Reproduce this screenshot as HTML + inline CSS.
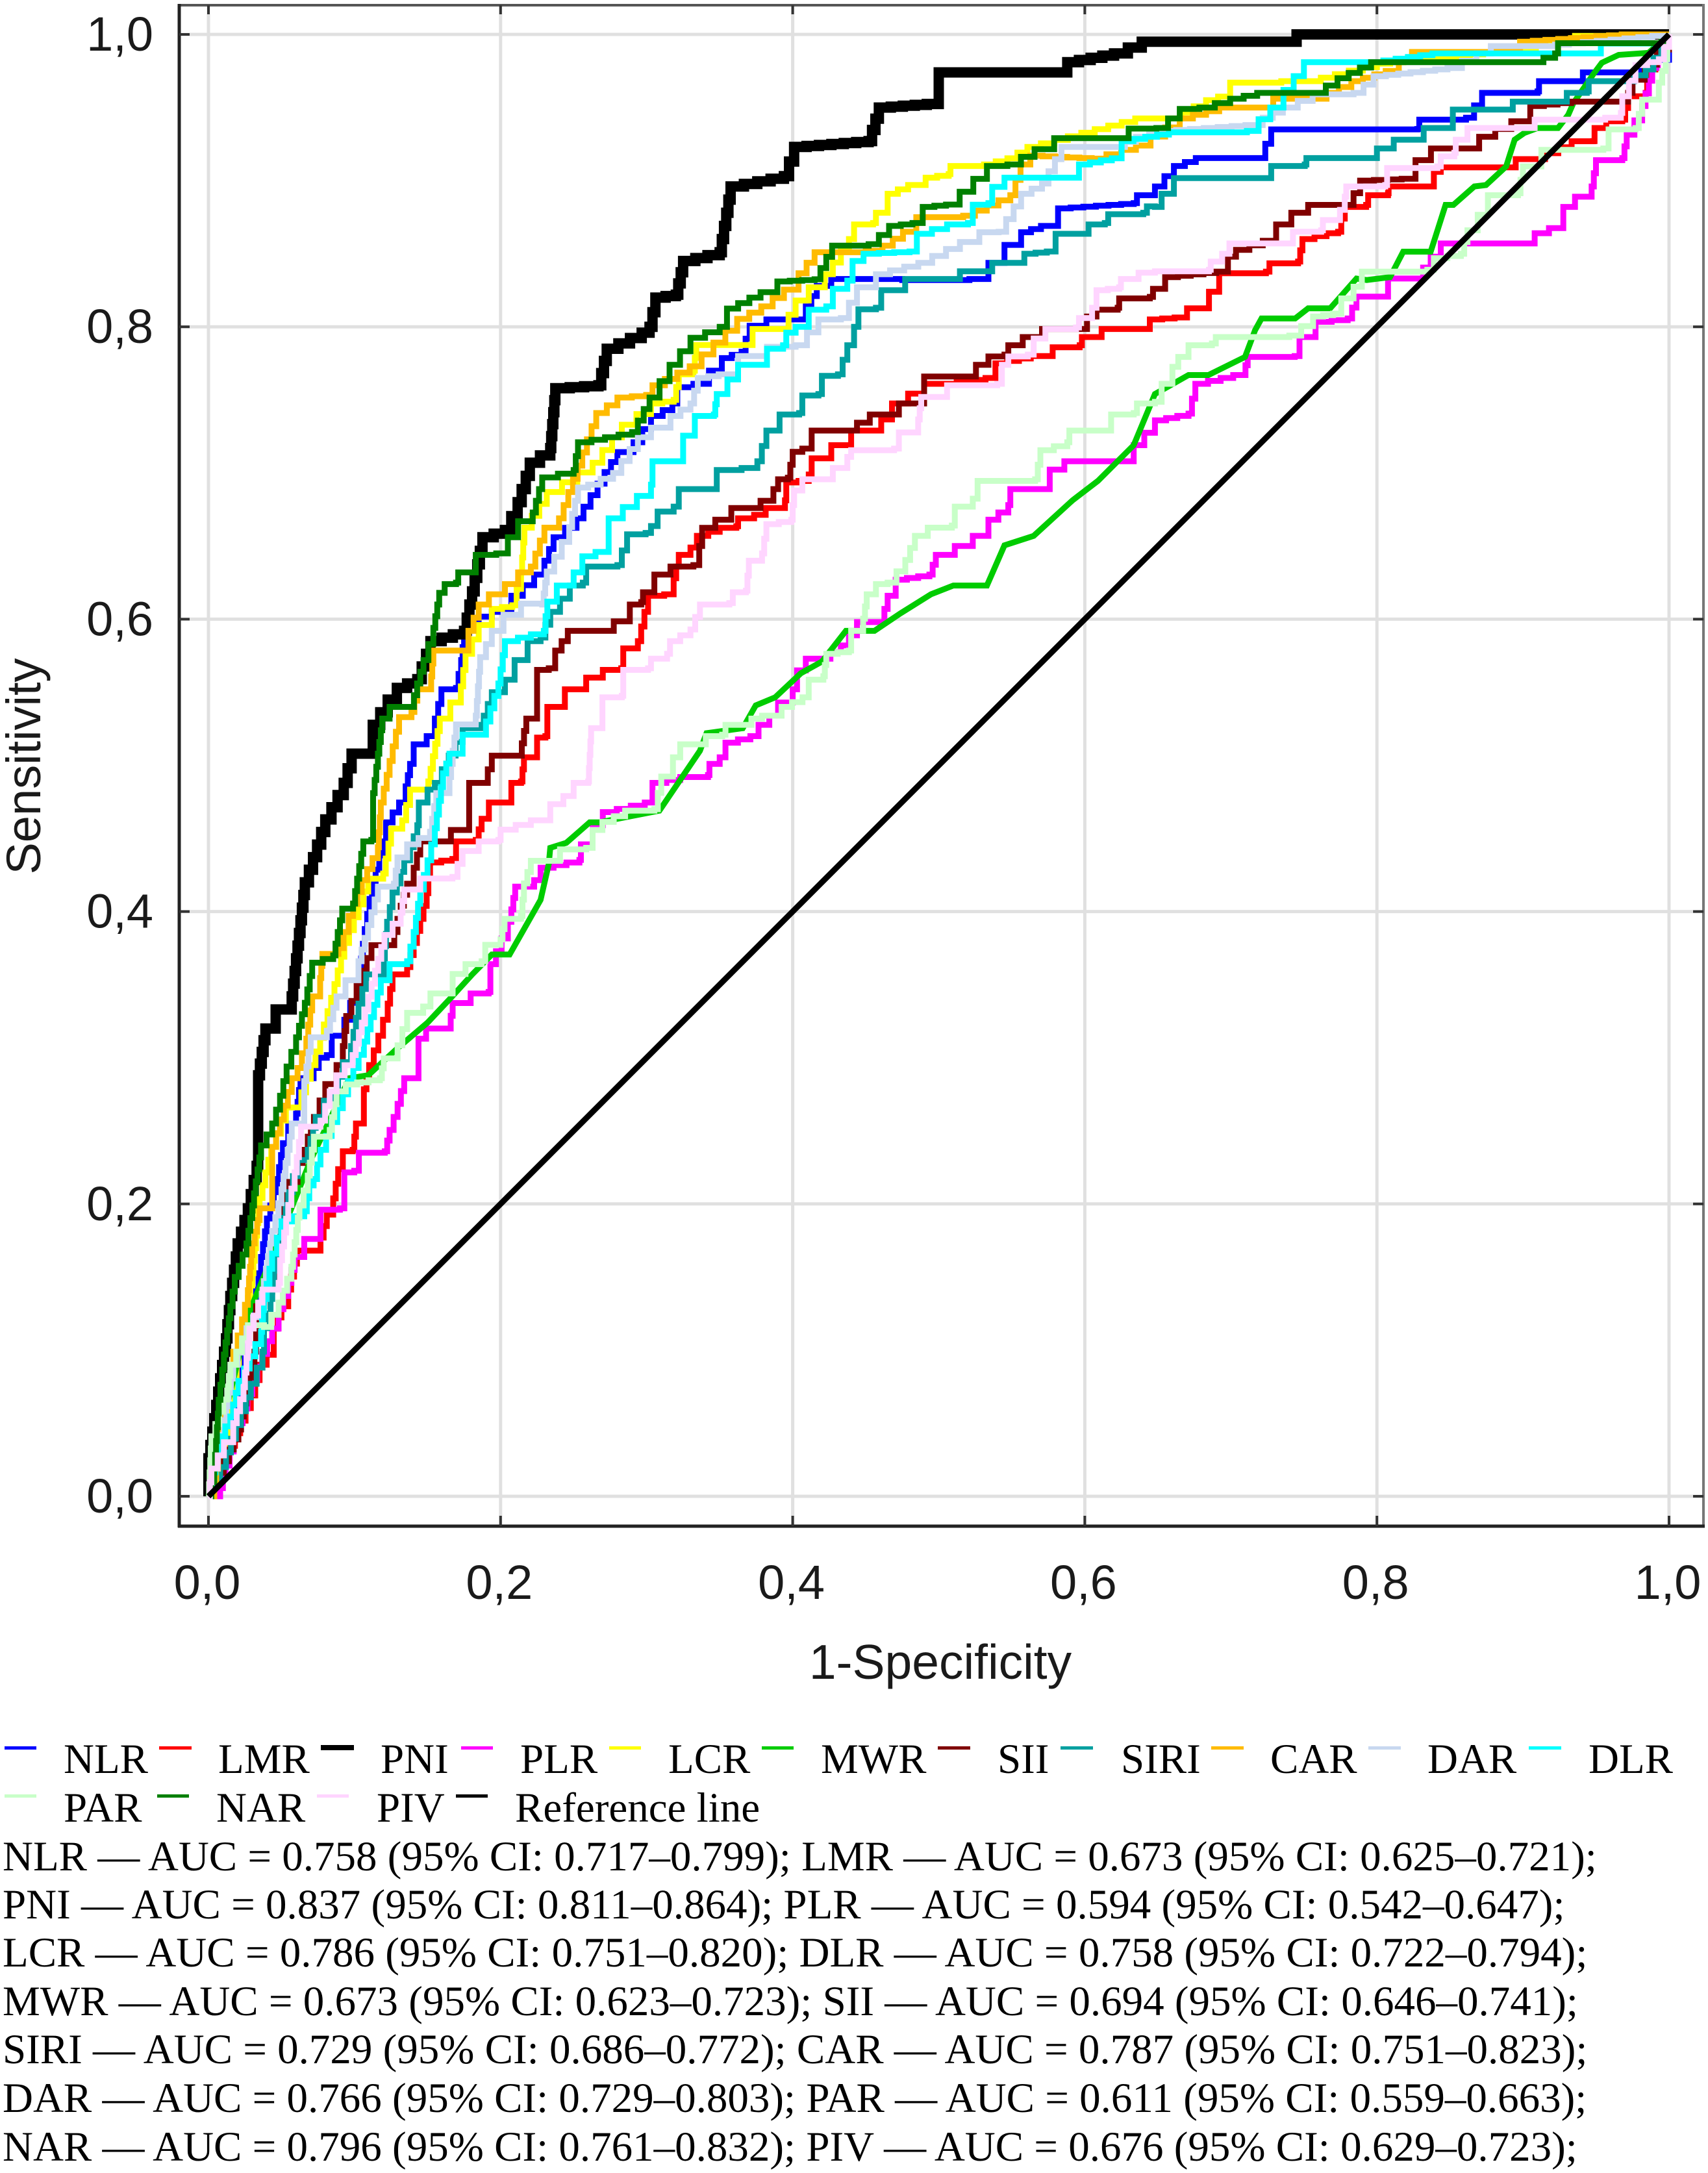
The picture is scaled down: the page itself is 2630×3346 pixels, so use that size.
<!DOCTYPE html>
<html>
<head>
<meta charset="utf-8">
<title>ROC curves</title>
<style>
html,body{margin:0;padding:0;background:#fff}
svg{display:block}
.sans{font-family:"Liberation Sans",sans-serif;fill:#1a1a1a}
.serif{font-family:"Liberation Serif",serif;fill:#000;font-size:65px}
</style>
</head>
<body>
<svg id="chart" xmlns="http://www.w3.org/2000/svg" width="2630" height="3346" viewBox="0 0 2630 3346">
<rect x="0" y="0" width="2630" height="3346" fill="#ffffff"/>
<g id="grid"></g>
<g id="marks"></g>
<g id="frame">
<line x1="274" y1="8" x2="2625" y2="8" stroke="#555" stroke-width="4"/>
<line x1="2623" y1="6" x2="2623" y2="2352" stroke="#777" stroke-width="4"/>
<line x1="276" y1="6" x2="276" y2="2352" stroke="#222" stroke-width="5"/>
<line x1="274" y1="2350" x2="2625" y2="2350" stroke="#222" stroke-width="5"/>
</g>
<g id="ticks"></g>
<text class="sans" x="1448" y="2585" font-size="75" text-anchor="middle">1-Specificity</text>
<text class="sans" transform="translate(62,1180) rotate(-90)" font-size="74" text-anchor="middle">Sensitivity</text>

<g>
<rect x="7" y="2689" width="49" height="5" fill="#0000ff"/>
<text class="serif" x="98" y="2730">NLR</text>
<rect x="245" y="2689" width="50" height="5" fill="#ff0000"/>
<text class="serif" x="336" y="2730">LMR</text>
<rect x="494" y="2687" width="51" height="8" fill="#000000"/>
<text class="serif" x="586" y="2730">PNI</text>
<rect x="710" y="2689" width="49" height="5" fill="#ff00ff"/>
<text class="serif" x="801" y="2730">PLR</text>
<rect x="938" y="2689" width="49" height="5" fill="#ffff00"/>
<text class="serif" x="1029" y="2730">LCR</text>
<rect x="1173" y="2689" width="49" height="5" fill="#00cc00"/>
<text class="serif" x="1264" y="2730">MWR</text>
<rect x="1444" y="2689" width="50" height="5" fill="#800000"/>
<text class="serif" x="1536" y="2730">SII</text>
<rect x="1633" y="2689" width="50" height="5" fill="#00a0a0"/>
<text class="serif" x="1726" y="2730">SIRI</text>
<rect x="1865" y="2689" width="50" height="5" fill="#ffbb00"/>
<text class="serif" x="1956" y="2730">CAR</text>
<rect x="2107" y="2689" width="50" height="5" fill="#c8d8f0"/>
<text class="serif" x="2198" y="2730">DAR</text>
<rect x="2354" y="2689" width="50" height="5" fill="#00ffff"/>
<text class="serif" x="2446" y="2730">DLR</text>
<rect x="7" y="2763" width="49" height="5" fill="#c8ffc8"/>
<text class="serif" x="98" y="2805">PAR</text>
<rect x="242" y="2763" width="49" height="5" fill="#008000"/>
<text class="serif" x="333" y="2805">NAR</text>
<rect x="488" y="2763" width="49" height="5" fill="#ffd5ff"/>
<text class="serif" x="580" y="2805">PIV</text>
<rect x="702" y="2763" width="49" height="5" fill="#000000"/>
<text class="serif" x="793" y="2805">Reference line</text>
</g>

<g>
<text class="serif" x="4" y="2880">NLR — AUC = 0.758 (95% CI: 0.717–0.799); LMR — AUC = 0.673 (95% CI: 0.625–0.721);</text>
<text class="serif" x="4" y="2954">PNI — AUC = 0.837 (95% CI: 0.811–0.864); PLR — AUC = 0.594 (95% CI: 0.542–0.647);</text>
<text class="serif" x="4" y="3028">LCR — AUC = 0.786 (95% CI: 0.751–0.820); DLR — AUC = 0.758 (95% CI: 0.722–0.794);</text>
<text class="serif" x="4" y="3103">MWR — AUC = 0.673 (95% CI: 0.623–0.723); SII — AUC = 0.694 (95% CI: 0.646–0.741);</text>
<text class="serif" x="4" y="3177">SIRI — AUC = 0.729 (95% CI: 0.686–0.772); CAR — AUC = 0.787 (95% CI: 0.751–0.823);</text>
<text class="serif" x="4" y="3252">DAR — AUC = 0.766 (95% CI: 0.729–0.803); PAR — AUC = 0.611 (95% CI: 0.559–0.663);</text>
<text class="serif" x="4" y="3327">NAR — AUC = 0.796 (95% CI: 0.761–0.832); PIV — AUC = 0.676 (95% CI: 0.629–0.723);</text>
</g>
</svg>

<script>
const xTickValues = [0, 0.2, 0.4, 0.6, 0.8, 1];
const yTickValues = [0, 0.2, 0.4, 0.6, 0.8, 1];
const xTickLabels = ["0,0", "0,2", "0,4", "0,6", "0,8", "1,0"];
const yTickLabels = ["0,0", "0,2", "0,4", "0,6", "0,8", "1,0"];

const nlr = [[0,0],[.004,.008],[.024,.097],[.0326,.1414],[.036,.1637],[.04,.19],[.047,.217],[.051,.2416],[.0546,.255],[.06,.2617],[.063,.286],[.072,.293],[.0755,.3],[.081,.3018],[.0844,.315],[.093,.326],[.097,.3376],[.102,.3478],[.107,.388],[.112,.419],[.1194,.448],[.1216,.461],[.1305,.4746],[.135,.4856],[.138,.501],[.1405,.5144],[.1494,.52],[.155,.532],[.1595,.552],[.1695,.553],[.173,.572],[.176,.5985],[.194,.605],[.2074,.616],[.223,.6305],[.23,.64],[.2363,.656],[.252,.669],[.2712,.7006],[.28,.7143],[.291,.721],[.303,.739],[.311,.743],[.3176,.7476],[.321,.7587],[.332,.761],[.3427,.763],[.3427,.77],[.3515,.7786],[.365,.783],[.3705,.8007],[.382,.805],[.4,.805],[.409,.814],[.4165,.828],[.4264,.8327],[.475,.832],[.521,.8327],[.534,.8437],[.545,.856],[.5564,.8647],[.57,.869],[.5817,.881],[.6335,.8846],[.6357,.89],[.648,.896],[.661,.91],[.676,.9154],[.7195,.9154],[.7276,.935],[.8276,.9353],[.829,.9417],[.861,.943],[.872,.96],[.91,.961],[.911,.968],[.94,.968],[.941,.974],[.97,.974],[1,.987],[1,1]];

const lmr = [[0,0],[.029,.069],[.035,.09],[.0447,.1036],[.0447,.1147],[.05,.13],[.0546,.1414],[.0606,.168],[.0767,.168],[.0767,.177],[.081,.1927],[.0854,.2038],[.0888,.2238],[.092,.236],[.0987,.237],[.101,.255],[.1064,.2617],[.1064,.2784],[.11,.295],[.1163,.315],[.1227,.337],[.126,.357],[.136,.362],[.145,.395],[.1494,.4126],[.1517,.4336],[.167,.436],[.1695,.448],[.183,.449],[.187,.4635],[.192,.4746],[.206,.4746],[.2074,.488],[.214,.489],[.216,.5055],[.225,.5066],[.225,.519],[.2307,.52],[.232,.54],[.244,.541],[.244,.552],[.2586,.553],[.2586,.56],[.27,.56],[.27,.5653],[.2826,.5664],[.284,.58],[.294,.585],[.2985,.605],[.301,.616],[.312,.617],[.3185,.628],[.322,.644],[.33,.649],[.3344,.657],[.35,.6625],[.3614,.6636],[.3626,.669],[.3736,.6714],[.3815,.676],[.3947,.6813],[.3956,.6935],[.404,.6946],[.411,.699],[.413,.71],[.4264,.719],[.44,.72],[.44,.729],[.455,.729],[.4606,.7366],[.468,.7476],[.49,.761],[.5024,.761],[.532,.765],[.5388,.775],[.563,.78],[.578,.781],[.578,.786],[.5965,.7874],[.598,.793],[.6115,.793],[.6115,.7985],[.6423,.7985],[.6445,.805],[.67,.807],[.67,.8126],[.684,.8126],[.685,.824],[.692,.825],[.692,.8366],[.724,.8377],[.7264,.8434],[.746,.8446],[.749,.86],[.7655,.864],[.7734,.865],[.7756,.874],[.778,.882],[.7926,.8834],[.794,.89],[.8076,.8914],[.808,.896],[.839,.897],[.839,.906],[.8437,.909],[.887,.909],[.895,.91],[.895,.9147],[.906,.9147],[.9333,.9269],[.948,.927],[.949,.936],[.957,.9406],[.968,.9417],[.972,.9577],[.984,.96],[.986,.976],[1,1]];

const pni = [[0,0],[0,.026],[.012,.108],[.015,.137],[.02,.173],[.027,.197],[.033,.226],[.034,.288],[.039,.32],[.046,.333],[.057,.342],[.066,.42],[.08,.463],[.0926,.488],[.098,.508],[.1125,.508],[.1125,.5277],[.1227,.545],[.129,.553],[.143,.559],[.152,.585],[.175,.592],[.1805,.619],[.1876,.656],[.203,.661],[.2117,.68],[.22,.707],[.234,.717],[.2375,.758],[.267,.76],[.2727,.785],[.2966,.796],[.302,.8],[.306,.82],[.32,.822],[.325,.845],[.35,.851],[.3575,.896],[.394,.903],[.401,.923],[.452,.927],[.459,.95],[.5,.953],[.5,.974],[.586,.974],[.588,.981],[.62,.987],[.639,.995],[.745,.995],[.745,1],[1,1]];

const plr = [[0,0],[.008,.0056],[.0117,.021],[.02,.05],[.03,.08],[.0436,.1147],[.048,.128],[.0546,.146],[.059,.1637],[.0656,.168],[.0656,.176],[.0755,.176],[.0767,.196],[.09,.197],[.093,.2016],[.093,.2216],[.0998,.2227],[.103,.235],[.1207,.236],[.124,.2506],[.1295,.2684],[.134,.286],[.1438,.2873],[.1438,.313],[.149,.32],[.1645,.32],[.1672,.3374],[.1795,.344],[.1918,.345],[.193,.364],[.2007,.3816],[.205,.393],[.2074,.4015],[.21,.417],[.223,.4215],[.2274,.43],[.254,.4353],[.255,.446],[.263,.459],[.27,.468],[.2987,.4746],[.304,.488],[.323,.492],[.342,.4934],[.343,.501],[.35,.5055],[.354,.5155],[.371,.52],[.3766,.5277],[.384,.534],[.39,.543],[.4,.552],[.403,.565],[.409,.573],[.4187,.573],[.433,.582],[.444,.596],[.444,.598],[.4606,.598],[.465,.616],[.4705,.627],[.4936,.6305],[.498,.644],[.511,.65],[.5233,.657],[.534,.668],[.5476,.678],[.549,.689],[.576,.69],[.576,.7023],[.586,.708],[.629,.708],[.6335,.719],[.648,.736],[.671,.7406],[.6757,.761],[.7016,.767],[.71,.7737],[.7115,.7794],[.7437,.78],[.747,.793],[.758,.793],[.758,.8034],[.78,.8057],[.786,.8206],[.8,.8206],[.8076,.833],[.8264,.833],[.8368,.848],[.8437,.857],[.9057,.857],[.908,.864],[.9276,.871],[.9276,.882],[.9356,.889],[.947,.896],[.95,.914],[.968,.9154],[.971,.9314],[.9816,.951],[.9885,.977],[1,1]];

const lcr = [[0,0],[.004,.008],[.013,.052],[.024,.119],[.03,.1526],[.035,.204],[.043,.239],[.053,.266],[.0636,.2763],[.0765,.3136],[.084,.341],[.093,.3785],[.1094,.4225],[.1196,.426],[.125,.4567],[.1327,.4624],[.138,.4834],[.1505,.489],[.1584,.532],[.1728,.554],[.176,.5763],[.185,.596],[.194,.607],[.208,.6095],[.214,.632],[.2163,.6626],[.2316,.687],[.263,.707],[.283,.733],[.303,.7476],[.3185,.75],[.322,.7675],[.332,.77],[.334,.7875],[.369,.7875],[.3725,.7985],[.3923,.7985],[.402,.818],[.411,.818],[.411,.827],[.422,.836],[.4385,.86],[.442,.87],[.455,.871],[.457,.878],[.465,.891],[.479,.897],[.491,.902],[.5068,.9045],[.508,.91],[.531,.911],[.547,.9153],[.5607,.923],[.6345,.9425],[.6576,.9425],[.683,.955],[.6995,.96],[.6995,.967],[.7345,.968],[.752,.968],[.8,.98],[.9,.99],[.9356,.999],[1,1]];

const mwr = [[0,0],[.01,.05],[.028,.126],[.05,.18],[.07,.23],[.0965,.286],[.1094,.288],[.13,.307],[.15,.324],[.166,.341],[.1806,.357],[.194,.3706],[.2062,.3706],[.2274,.408],[.233,.4325],[.234,.4436],[.245,.447],[.261,.461],[.2675,.461],[.3087,.469],[.3365,.51],[.341,.522],[.3658,.5254],[.3747,.541],[.388,.5465],[.4056,.563],[.42,.571],[.4364,.592],[.456,.592],[.4738,.604],[.4947,.617],[.51,.623],[.533,.623],[.545,.6505],[.565,.657],[.5916,.6813],[.609,.6946],[.6335,.719],[.648,.754],[.6526,.7566],[.671,.767],[.6846,.767],[.7097,.7794],[.7166,.7977],[.721,.8057],[.744,.8057],[.7529,.8126],[.768,.8126],[.786,.833],[.793,.832],[.809,.834],[.818,.8514],[.8368,.8514],[.847,.8834],[.8524,.8834],[.8667,.896],[.8747,.897],[.8885,.9097],[.8943,.928],[.901,.9326],[.91,.936],[.924,.936],[.931,.945],[.9345,.953],[.948,.9726],[.954,.9806],[.9655,.986],[.986,.9874],[1,1]];

const sii = [[0,0],[.014,.032],[.0205,.0457],[.0315,.099],[.0326,.13],[.0436,.15],[.048,.1726],[.0546,.215],[.061,.228],[.068,.246],[.0722,.2595],[.08,.282],[.0877,.295],[.092,.308],[.0943,.3285],[.105,.3595],[.1116,.377],[.125,.377],[.1316,.404],[.136,.419],[.1405,.43],[.145,.448],[.165,.448],[.166,.4558],[.1773,.4558],[.1785,.488],[.1885,.488],[.194,.5066],[.213,.5066],[.2176,.532],[.225,.533],[.225,.5653],[.233,.5664],[.2374,.5785],[.2418,.585],[.246,.592],[.2764,.592],[.2775,.5985],[.2885,.5985],[.2885,.61],[.2963,.6117],[.2975,.6184],[.3053,.6195],[.3053,.6305],[.3163,.636],[.332,.637],[.336,.65],[.338,.6625],[.347,.668],[.358,.676],[.378,.677],[.378,.681],[.3868,.689],[.39,.6957],[.3967,.6968],[.4,.7145],[.4066,.7167],[.413,.729],[.443,.729],[.444,.7344],[.4528,.74],[.4727,.741],[.4727,.7476],[.4837,.7476],[.49,.7565],[.49,.766],[.5255,.766],[.5255,.774],[.534,.7797],[.545,.781],[.5476,.7874],[.5575,.793],[.561,.793],[.5707,.7985],[.598,.7985],[.6015,.807],[.608,.8117],[.6225,.813],[.6235,.8194],[.6445,.8205],[.6467,.826],[.655,.834],[.69,.8377],[.698,.848],[.7035,.8526],[.731,.862],[.731,.87],[.7414,.871],[.7414,.878],[.7529,.879],[.7529,.8834],[.777,.8834],[.784,.8914],[.7885,.9],[.8264,.9017],[.8264,.914],[.837,.9154],[.837,.922],[.8613,.922],[.87,.93],[.892,.9406],[.905,.9417],[.905,.951],[.933,.954],[.963,.954],[.972,.96],[.975,.969],[1,1]];

const siri = [[0,0],[.012,.03],[.029,.077],[.037,.099],[.038,.115],[.0425,.135],[.046,.164],[.0546,.208],[.061,.23],[.068,.237],[.0734,.2595],[.079,.2706],[.0855,.277],[.092,.297],[.0976,.308],[.1027,.337],[.108,.357],[.12,.368],[.1223,.393],[.126,.413],[.129,.4193],[.134,.435],[.138,.444],[.143,.459],[.144,.4746],[.15,.4834],[.155,.488],[.174,.5254],[.187,.5277],[.1885,.534],[.194,.55],[.203,.5586],[.2096,.572],[.2185,.574],[.2185,.585],[.2274,.5874],[.234,.605],[.2474,.623],[.2563,.625],[.2586,.636],[.28,.637],[.283,.647],[.2866,.658],[.2993,.659],[.303,.6637],[.3075,.6736],[.3185,.677],[.322,.689],[.348,.69],[.348,.702],[.365,.7034],[.3758,.708],[.382,.729],[.391,.74],[.4044,.741],[.4066,.753],[.4176,.754],[.42,.7664],[.431,.7675],[.4374,.7874],[.442,.8],[.445,.812],[.457,.813],[.4606,.825],[.477,.826],[.477,.8327],[.5145,.8327],[.5145,.838],[.5366,.838],[.5366,.8437],[.5586,.8437],[.5586,.85],[.574,.8515],[.58,.8636],[.6026,.865],[.6026,.87],[.6137,.871],[.616,.877],[.64,.878],[.6425,.8824],[.648,.882],[.6526,.891],[.661,.9017],[.7264,.9017],[.7276,.91],[.7506,.911],[.7517,.9154],[.8,.9154],[.8,.922],[.8115,.9246],[.8115,.928],[.831,.928],[.832,.936],[.846,.936],[.852,.9486],[.892,.9486],[.893,.954],[.93,.954],[.93,.96],[.9437,.961],[.945,.968],[.968,.968],[.984,.976],[1,1]];

const car = [[0,0],[.004,.01],[.017,.099],[.023,.121],[.027,.141],[.03,.173],[.035,.197],[.0425,.197],[.0436,.239],[.057,.286],[.061,.293],[.067,.313],[.071,.342],[.0765,.3545],[.078,.371],[.089,.375],[.096,.397],[.105,.4215],[.116,.444],[.118,.4746],[.124,.503],[.1305,.533],[.139,.5365],[.143,.552],[.1517,.552],[.154,.5785],[.176,.5785],[.178,.592],[.185,.61],[.192,.617],[.203,.624],[.212,.632],[.2207,.636],[.23,.6626],[.24,.669],[.2655,.741],[.28,.7516],[.2997,.7534],[.304,.76],[.3295,.773],[.362,.8054],[.3785,.814],[.394,.8254],[.404,.8366],[.415,.851],[.45,.852],[.4615,.8555],[.4755,.865],[.4846,.875],[.5167,.876],[.549,.89],[.556,.911],[.5627,.917],[.6047,.915],[.635,.924],[.665,.9425],[.692,.95],[.72,.95],[.729,.956],[.757,.956],[.7825,.968],[.806,.975],[.824,.988],[.8937,.988],[.898,.995],[.9676,1],[1,1]];

const dar = [[0,0],[.002,.012],[.0106,.052],[.017,.09],[.026,.115],[.035,.13],[.0436,.1815],[.05,.21],[.057,.255],[.0656,.257],[.0656,.284],[.07,.314],[.081,.3185],[.0877,.342],[.0938,.353],[.1027,.366],[.107,.382],[.116,.417],[.127,.419],[.1294,.437],[.136,.446],[.1517,.4546],[.156,.481],[.165,.492],[.1695,.528],[.183,.534],[.186,.574],[.194,.592],[.202,.603],[.214,.6106],[.2285,.61],[.2316,.6326],[.247,.663],[.253,.69],[.26,.692],[.277,.7],[.294,.7245],[.303,.731],[.3163,.739],[.33,.7476],[.335,.765],[.3493,.7675],[.3626,.78],[.377,.78],[.3824,.7863],[.402,.7874],[.4176,.805],[.433,.806],[.444,.827],[.457,.836],[.486,.8437],[.5145,.858],[.5278,.8647],[.541,.865],[.5564,.891],[.5707,.898],[.584,.923],[.62,.923],[.635,.93],[.653,.934],[.71,.938],[.7218,.943],[.7356,.95],[.756,.959],[.784,.96],[.7977,.9714],[.8483,.977],[.878,.992],[.922,.993],[.9885,.999],[1,1]];

const dlr = [[0,0],[.008,.041],[.015,.0546],[.0205,.079],[.036,.1125],[.038,.135],[.0436,.166],[.05,.188],[.0656,.195],[.069,.2127],[.072,.217],[.0767,.237],[.092,.275],[.1064,.311],[.118,.353],[.124,.364],[.136,.366],[.1405,.386],[.145,.415],[.15,.435],[.155,.457],[.1606,.4945],[.165,.508],[.174,.521],[.187,.521],[.193,.539],[.1985,.556],[.203,.585],[.2296,.592],[.232,.612],[.2385,.623],[.25,.632],[.256,.643],[.274,.649],[.274,.669],[.303,.692],[.304,.708],[.325,.708],[.325,.7255],[.333,.739],[.346,.74],[.348,.754],[.3626,.774],[.38,.774],[.3824,.785],[.3934,.7874],[.3956,.796],[.402,.8],[.411,.8117],[.423,.814],[.4275,.826],[.4374,.8316],[.441,.845],[.4485,.85],[.48,.8515],[.485,.8636],[.5057,.87],[.52,.871],[.5233,.8835],[.534,.8846],[.5366,.8957],[.545,.902],[.5916,.902],[.596,.911],[.6185,.9153],[.6252,.927],[.6576,.933],[.711,.934],[.727,.95],[.736,.962],[.75,.981],[.796,.981],[.838,.987],[.9484,.987],[.9533,.9938],[.99,.9938],[1,1]];

const par = [[0,0],[.002,.041],[.0128,.0746],[.015,.09],[.027,.117],[.038,.1158],[.048,.1325],[.0568,.157],[.0623,.199],[.068,.2194],[.0722,.246],[.083,.2506],[.0877,.277],[.094,.2817],[.1174,.286],[.12,.2995],[.1295,.3085],[.136,.3307],[.147,.335],[.152,.344],[.1665,.344],[.1672,.3573],[.176,.364],[.187,.366],[.1895,.3772],[.2,.381],[.2027,.395],[.214,.397],[.216,.4193],[.2207,.4347],[.2385,.4347],[.2407,.4425],[.2586,.4436],[.263,.4558],[.2697,.4613],[.2853,.469],[.3053,.47],[.31,.4923],[.318,.5055],[.323,.5144],[.338,.5144],[.3405,.52],[.3517,.521],[.354,.5277],[.3695,.5277],[.3717,.532],[.379,.534],[.3924,.54],[.4067,.5465],[.411,.5586],[.421,.561],[.423,.5763],[.4385,.5785],[.44,.592],[.447,.592],[.4507,.617],[.457,.624],[.465,.625],[.4771,.6405],[.4837,.657],[.4925,.6626],[.509,.664],[.511,.677],[.5233,.6824],[.5266,.6946],[.566,.6957],[.5696,.7156],[.588,.721],[.5894,.729],[.6148,.729],[.618,.74],[.6335,.741],[.6357,.7476],[.648,.7487],[.6526,.761],[.66,.7726],[.664,.7794],[.671,.7874],[.687,.7886],[.6897,.793],[.74,.794],[.7563,.807],[.77,.809],[.7756,.8194],[.784,.8274],[.7897,.8377],[.8345,.839],[.839,.8469],[.8575,.85],[.862,.866],[.869,.8766],[.876,.89],[.8966,.8914],[.9,.9097],[.9126,.921],[.955,.922],[.9586,.935],[.977,.936],[.9816,.9554],[.993,.967],[.9977,.983],[1,1]];

const nar = [[0,0],[.004,.019],[.007,.066],[.0106,.097],[.015,.13],[.018,.15],[.026,.173],[.03,.199],[.036,.24],[.0436,.255],[.049,.274],[.0535,.294],[.06,.314],[.066,.3376],[.071,.365],[.0854,.37],[.0916,.402],[.099,.4055],[.106,.448],[.1115,.449],[.1127,.481],[.116,.508],[.119,.532],[.124,.54],[.1385,.54],[.1472,.572],[.154,.594],[.158,.618],[.1617,.624],[.1695,.625],[.171,.632],[.183,.644],[.197,.645],[.205,.656],[.212,.667],[.222,.673],[.2285,.697],[.25,.702],[.253,.721],[.29,.728],[.302,.7516],[.3157,.774],[.33,.7925],[.35,.8],[.355,.8125],[.378,.8237],[.3895,.831],[.415,.8325],[.427,.8555],[.452,.8565],[.466,.869],[.482,.871],[.489,.882],[.505,.8836],[.533,.91],[.547,.911],[.5656,.9215],[.579,.929],[.623,.929],[.63,.9356],[.649,.936],[.665,.949],[.6785,.95],[.6995,.956],[.718,.96],[.757,.96],[.773,.97],[.796,.981],[.906,.981],[.922,.987],[.924,.994],[.99,.994],[1,1]];

const piv = [[0,0],[.002,.019],[.0106,.037],[.017,.05],[.024,.0746],[.028,.1147],[.037,.1414],[.048,.146],[.049,.1615],[.0546,.1993],[.059,.2216],[.0634,.2528],[.0767,.257],[.083,.277],[.0877,.288],[.0987,.3018],[.103,.3174],[.105,.324],[.114,.3595],[.1205,.384],[.1316,.3993],[.134,.415],[.145,.4226],[.167,.4237],[.174,.4414],[.185,.448],[.1985,.449],[.2,.456],[.2207,.4624],[.234,.4735],[.243,.479],[.25,.488],[.26,.489],[.262,.5254],[.2697,.5277],[.2697,.5465],[.283,.5476],[.284,.5653],[.301,.5664],[.303,.573],[.314,.5763],[.316,.585],[.33,.593],[.3365,.61],[.3566,.611],[.359,.6184],[.368,.6195],[.37,.64],[.379,.645],[.382,.665],[.399,.668],[.401,.688],[.4066,.6957],[.4264,.6957],[.4275,.7034],[.4374,.711],[.44,.7156],[.4694,.7167],[.4727,.7277],[.4859,.7366],[.488,.752],[.5057,.753],[.5057,.76],[.54,.761],[.5432,.774],[.5476,.7797],[.561,.781],[.565,.792],[.573,.7985],[.594,.7995],[.596,.806],[.605,.813],[.608,.825],[.6235,.827],[.6247,.8327],[.6368,.837],[.648,.838],[.685,.839],[.6862,.8446],[.694,.85],[.699,.857],[.7414,.857],[.7425,.865],[.7618,.866],[.763,.873],[.7747,.88],[.778,.889],[.779,.896],[.8057,.897],[.807,.9086],[.8414,.9097],[.8437,.9166],[.853,.919],[.854,.928],[.862,.936],[.9057,.936],[.908,.9417],[.9563,.943],[.967,.9463],[.968,.9577],[.977,.979],[.993,.983],[1,1]];

const referenceLine = [[0,0],[1,1]];

const seriesNames = ["nlr","lmr","pni","plr","lcr","mwr","sii","siri","car","dar","dlr","par","nar","piv","reference-line"];
const seriesValues = [nlr,lmr,pni,plr,lcr,mwr,sii,siri,car,dar,dlr,par,nar,piv,referenceLine];

const svgNS = "http://www.w3.org/2000/svg";
const seriesStyle = {
  "nlr":["#0000ff",9],"lmr":["#ff0000",9],"pni":["#000000",16],"plr":["#ff00ff",9],"lcr":["#ffff00",9],
  "mwr":["#00cc00",9],"sii":["#800000",9],"siri":["#00a0a0",9],"car":["#ffbb00",9],"dar":["#c8d8f0",9],
  "dlr":["#00ffff",9],"par":["#c8ffc8",9],"nar":["#008000",9],"piv":["#ffd5ff",9],"reference-line":["#000000",9]
};
function xScale(v){ return 321 + 2249 * v; }
function yScale(v){ return 2304 - 2251 * v; }

function linePath(pts){
  return pts.map(function(p,i){ return (i ? "L" : "M") + xScale(p[0]).toFixed(1) + " " + yScale(p[1]).toFixed(1); }).join(" ");
}
function stairPath(pts){
  var d = "M" + xScale(pts[0][0]).toFixed(1) + " " + yScale(pts[0][1]).toFixed(1);
  for (var i = 1; i < pts.length; i++) {
    var a = pts[i-1], b = pts[i];
    var dx = b[0]-a[0], dy = b[1]-a[1];
    var n = Math.max(1, Math.round(Math.max(Math.abs(dx), Math.abs(dy)) / 0.009));
    if (Math.abs(dx) < 0.0015 || Math.abs(dy) < 0.0015) n = 1;
    for (var k = 1; k <= n; k++) {
      d += " H" + xScale(a[0] + dx*k/n).toFixed(1) + " V" + yScale(a[1] + dy*k/n).toFixed(1);
    }
  }
  return d;
}

var gridG = document.getElementById("grid");
var ticksG = document.getElementById("ticks");
var marksG = document.getElementById("marks");

function addLine(parent,x1,y1,x2,y2,color,w,name){
  var el = document.createElementNS(svgNS,"line");
  el.setAttribute("x1",x1); el.setAttribute("y1",y1);
  el.setAttribute("x2",x2); el.setAttribute("y2",y2);
  el.setAttribute("stroke",color); el.setAttribute("stroke-width",w);
  
  
  parent.appendChild(el);
}
function addLabel(x,y,str,anchor,name){
  var t = document.createElementNS(svgNS,"text");
  t.setAttribute("x",x); t.setAttribute("y",y);
  t.setAttribute("class","sans");
  t.setAttribute("font-size","74");
  t.setAttribute("text-anchor",anchor);
  t.textContent = str;
  
  
  ticksG.appendChild(t);
}

xTickValues.forEach(function(v,i){
  var x = xScale(v);
  addLine(gridG,x,8,x,2350,"#e0e0e0",5,"x-grid-line");
  addLine(ticksG,x,8,x,22,"#333",4,"x-top-tick");
  addLine(ticksG,x,2350,x,2334,"#333",4,"x-bottom-tick");
  addLabel(x-2,2462,xTickLabels[i],"middle","x-tick-label");
});
yTickValues.forEach(function(v,i){
  var y = yScale(v);
  addLine(gridG,276,y,2623,y,"#e0e0e0",5,"y-grid-line");
  addLine(ticksG,276,y,292,y,"#333",4,"y-left-tick");
  addLine(ticksG,2623,y,2607,y,"#333",4,"y-right-tick");
  addLabel(236,y+25,yTickLabels[i],"end","y-tick-label");
});

seriesValues.forEach(function(pts,i){
  var name = seriesNames[i];
  var st = seriesStyle[name];
  var smooth = (name === "mwr" || name === "reference-line");
  var path = document.createElementNS(svgNS,"path");
  path.setAttribute("d", smooth ? linePath(pts) : stairPath(pts));
  path.setAttribute("fill","none");
  path.setAttribute("stroke",st[0]);
  path.setAttribute("stroke-width",st[1]);
  path.setAttribute("stroke-linejoin","miter");
  
  
  marksG.appendChild(path);
});
</script>
</body>
</html>
